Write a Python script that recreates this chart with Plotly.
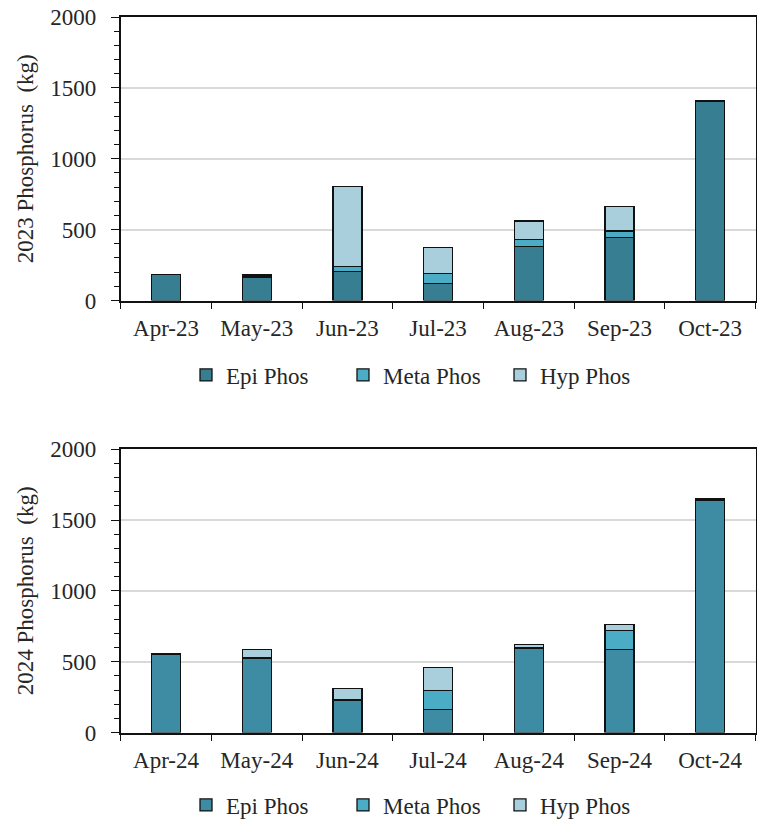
import plotly.graph_objects as go

# Monthly phosphorus load by lake layer (kg)
months_2023 = ["Apr-23", "May-23", "Jun-23", "Jul-23", "Aug-23", "Sep-23", "Oct-23"]
epi_2023 = [181, 163, 207, 122, 381, 443, 1404]
meta_2023 = [2, 9, 33, 67, 50, 47, 3]
hyp_2023 = [2, 10, 565, 183, 130, 174, 2]

months_2024 = ["Apr-24", "May-24", "Jun-24", "Jul-24", "Aug-24", "Sep-24", "Oct-24"]
epi_2024 = [553, 527, 228, 162, 596, 584, 1638]
meta_2024 = [1, 4, 3, 137, 6, 134, 7]
hyp_2024 = [1, 53, 80, 158, 20, 45, 6]

series_names = ["Epi Phos", "Meta Phos", "Hyp Phos"]
colors_2023 = ["#377E92", "#4BACC6", "#AACFDC"]
colors_2024 = ["#3E8CA4", "#4BACC6", "#AACFDC"]

FONT = "Liberation Serif, Times New Roman, serif"
FS = 23
W, H = 757, 821

fig = go.Figure()


def add_year(months, layers, colors, xref, yref, legend):
    for name, vals, col in zip(series_names, layers, colors):
        fig.add_trace(go.Bar(
            x=months, y=vals, name=name,
            marker=dict(color=col, line=dict(color="#111111", width=1.3)),
            width=0.32, xaxis=xref, yaxis=yref, legend=legend,
        ))


add_year(months_2023, [epi_2023, meta_2023, hyp_2023], colors_2023, "x", "y", "legend")
add_year(months_2024, [epi_2024, meta_2024, hyp_2024], colors_2024, "x2", "y2", "legend2")

x_dom = [120.7 / W, 755.5 / W]
top_dom = [1 - 300.5 / H, 1 - 17 / H]
bot_dom = [1 - 732.5 / H, 1 - 449.3 / H]

tick_font = dict(family=FONT, size=FS, color="#262626")

xaxis_common = dict(
    domain=x_dom, type="category", tickson="boundaries",
    ticks="outside", ticklen=7, tickwidth=1.3, tickcolor="#111111",
    showline=True, linecolor="#111111", linewidth=1.5, mirror=True,
    showgrid=False, tickfont=tick_font, ticklabelstandoff=6,
    automargin=False,
)
yaxis_common = dict(
    range=[0, 2000], dtick=500, tickmode="linear",
    ticks="outside", ticklen=8, tickwidth=1.3, tickcolor="#111111",
    minor=dict(dtick=100, ticks="outside", ticklen=5, tickwidth=1.3,
               tickcolor="#111111", showgrid=False),
    showline=True, linecolor="#111111", linewidth=1.5, mirror=True,
    showgrid=True, gridcolor="#D9D9D9", gridwidth=1.5,
    zeroline=False, tickfont=tick_font, ticklabelstandoff=10,
    automargin=False,
)

legend_common = dict(
    orientation="h", xanchor="left", yanchor="middle",
    font=dict(family=FONT, size=FS, color="#262626"),
    bgcolor="rgba(0,0,0,0)", traceorder="normal",
    entrywidth=112, entrywidthmode="pixels",
)

fig.update_layout(
    width=W, height=H,
    margin=dict(l=0, r=0, t=0, b=0, autoexpand=False),
    paper_bgcolor="white", plot_bgcolor="white",
    barmode="stack", bargap=0.68,
    font=dict(family=FONT, size=FS, color="#262626"),
    xaxis=dict(anchor="y", **xaxis_common),
    yaxis=dict(anchor="x", domain=top_dom,
               title=dict(text="2023 Phosphorus  (kg)", standoff=10,
                          font=dict(family=FONT, size=FS, color="#262626")),
               **yaxis_common),
    xaxis2=dict(anchor="y2", **xaxis_common),
    yaxis2=dict(anchor="x2", domain=bot_dom,
                title=dict(text="2024 Phosphorus  (kg)", standoff=10,
                           font=dict(family=FONT, size=FS, color="#262626")),
                **yaxis_common),
    legend=dict(x=186 / W, y=1 - 375 / H, **legend_common),
    legend2=dict(x=186 / W, y=1 - 805 / H, **legend_common),
)

fig.write_html("out.html")
